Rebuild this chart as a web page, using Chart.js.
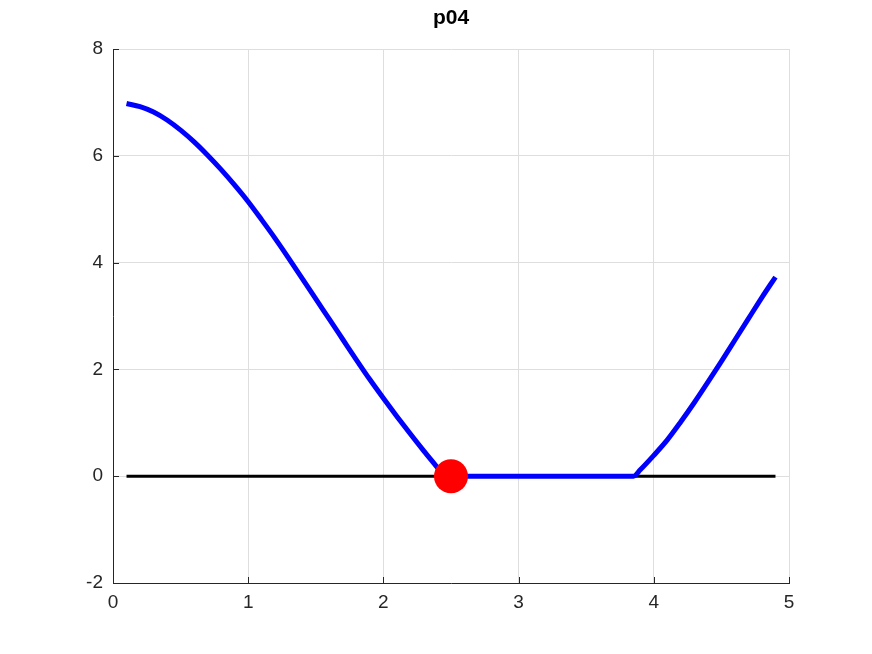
<!DOCTYPE html>
<html>
<head>
<meta charset="utf-8">
<script src="https://cdn.jsdelivr.net/npm/chart.js@4/dist/chart.umd.min.js"></script>
<style>
html,body{margin:0;padding:0;background:#fff;}
#wrap{width:872px;height:654px;}
</style>
</head>
<body>
<div id="wrap"><canvas id="c" width="872" height="654"></canvas></div>
<script>
const titleText = "p04";
const xTicks = [0, 1, 2, 3, 4, 5];
const yTicks = [-2, 0, 2, 4, 6, 8];

const curveX = [0.1,0.2,0.3,0.4,0.5,0.6,0.7,0.8,0.9,1.0,1.1,1.2,1.3,1.4,1.5,1.6,1.7,1.8,1.9,2.0,2.1,2.2,2.3,2.4,2.45,2.6,2.8,3.0,3.2,3.4,3.6,3.8,3.85,3.9,4.0,4.1,4.2,4.3,4.4,4.5,4.6,4.7,4.8,4.9];
const curveY = [6.98,6.92,6.82,6.67,6.48,6.26,6.01,5.74,5.45,5.14,4.80,4.45,4.08,3.70,3.32,2.94,2.56,2.18,1.81,1.46,1.12,0.79,0.47,0.16,0.0,0,0,0,0,0,0,0,0,0.12,0.39,0.68,1.02,1.38,1.76,2.15,2.55,2.95,3.35,3.73];

const zeroX = [0.1, 4.9];
const zeroY = [0, 0];

const markX = [2.5];
const markY = [0];

const pts = (xs, ys) => xs.map((x, i) => ({x: x, y: ys[i]}));

const titlePlugin = {
  id: 'octTitle',
  afterDraw(chart) {
    const ctx = chart.ctx;
    const a = chart.chartArea;
    ctx.save();
    ctx.font = 'bold 21px "Liberation Sans", Arial, sans-serif';
    ctx.fillStyle = '#000';
    ctx.textAlign = 'center';
    ctx.textBaseline = 'middle';
    ctx.fillText(titleText, (a.left + a.right) / 2, 18);
    ctx.restore();
  }
};

const tickPlugin = {
  id: 'innerTicks',
  afterDatasetsDraw(chart) {
    const ctx = chart.ctx;
    const a = chart.chartArea;
    const xs = chart.scales.x, ys = chart.scales.y;
    ctx.save();
    ctx.strokeStyle = '#262626';
    ctx.lineWidth = 1;
    ctx.beginPath();
    xTicks.forEach(v => {
      const px = Math.round(xs.getPixelForValue(v)) + 0.5;
      ctx.moveTo(px, a.bottom);
      ctx.lineTo(px, a.bottom - 6);
    });
    yTicks.forEach(v => {
      const py = Math.round(ys.getPixelForValue(v)) + 0.5;
      ctx.moveTo(a.left, py);
      ctx.lineTo(a.left + 6, py);
    });
    ctx.stroke();
    ctx.restore();
  }
};

new Chart(document.getElementById('c'), {
  type: 'scatter',
  data: {
    datasets: [
      {
        data: pts(markX, markY),
        showLine: false,
        pointRadius: 17,
        pointBackgroundColor: '#ff0000',
        pointBorderColor: '#ff0000',
        pointBorderWidth: 0
      },
      {
        data: pts(curveX, curveY),
        showLine: true,
        borderColor: '#0000ff',
        borderWidth: 5,
        pointRadius: 0,
        cubicInterpolationMode: 'monotone',
        fill: false
      },
      {
        data: pts(zeroX, zeroY),
        showLine: true,
        borderColor: '#000000',
        borderWidth: 3,
        pointRadius: 0,
        fill: false
      }
    ]
  },
  options: {
    responsive: false,
    animation: false,
    layout: { padding: { left: 0, right: 83, top: 49, bottom: 0 } },
    plugins: { legend: { display: false }, tooltip: { enabled: false }, title: { display: false } },
    scales: {
      x: {
        type: 'linear',
        min: 0, max: 5,
        afterFit(s) { s.height = 71; },
        afterBuildTicks(s) { s.ticks = xTicks.map(v => ({value: v})); },
        ticks: { color: '#262626', padding: 8, font: { family: '"Liberation Sans", Arial, sans-serif', size: 19 } },
        grid: { color: '#dedede', lineWidth: 1, drawTicks: false },
        border: { display: true, color: '#262626', width: 1 }
      },
      y: {
        type: 'linear',
        min: -2, max: 8,
        afterFit(s) { s.width = 113; },
        afterBuildTicks(s) { s.ticks = yTicks.map(v => ({value: v})); },
        ticks: { color: '#262626', padding: 10, font: { family: '"Liberation Sans", Arial, sans-serif', size: 19 } },
        grid: { color: '#dedede', lineWidth: 1, drawTicks: false },
        border: { display: true, color: '#262626', width: 1 }
      }
    }
  },
  plugins: [titlePlugin, tickPlugin]
});
</script>
</body>
</html>
